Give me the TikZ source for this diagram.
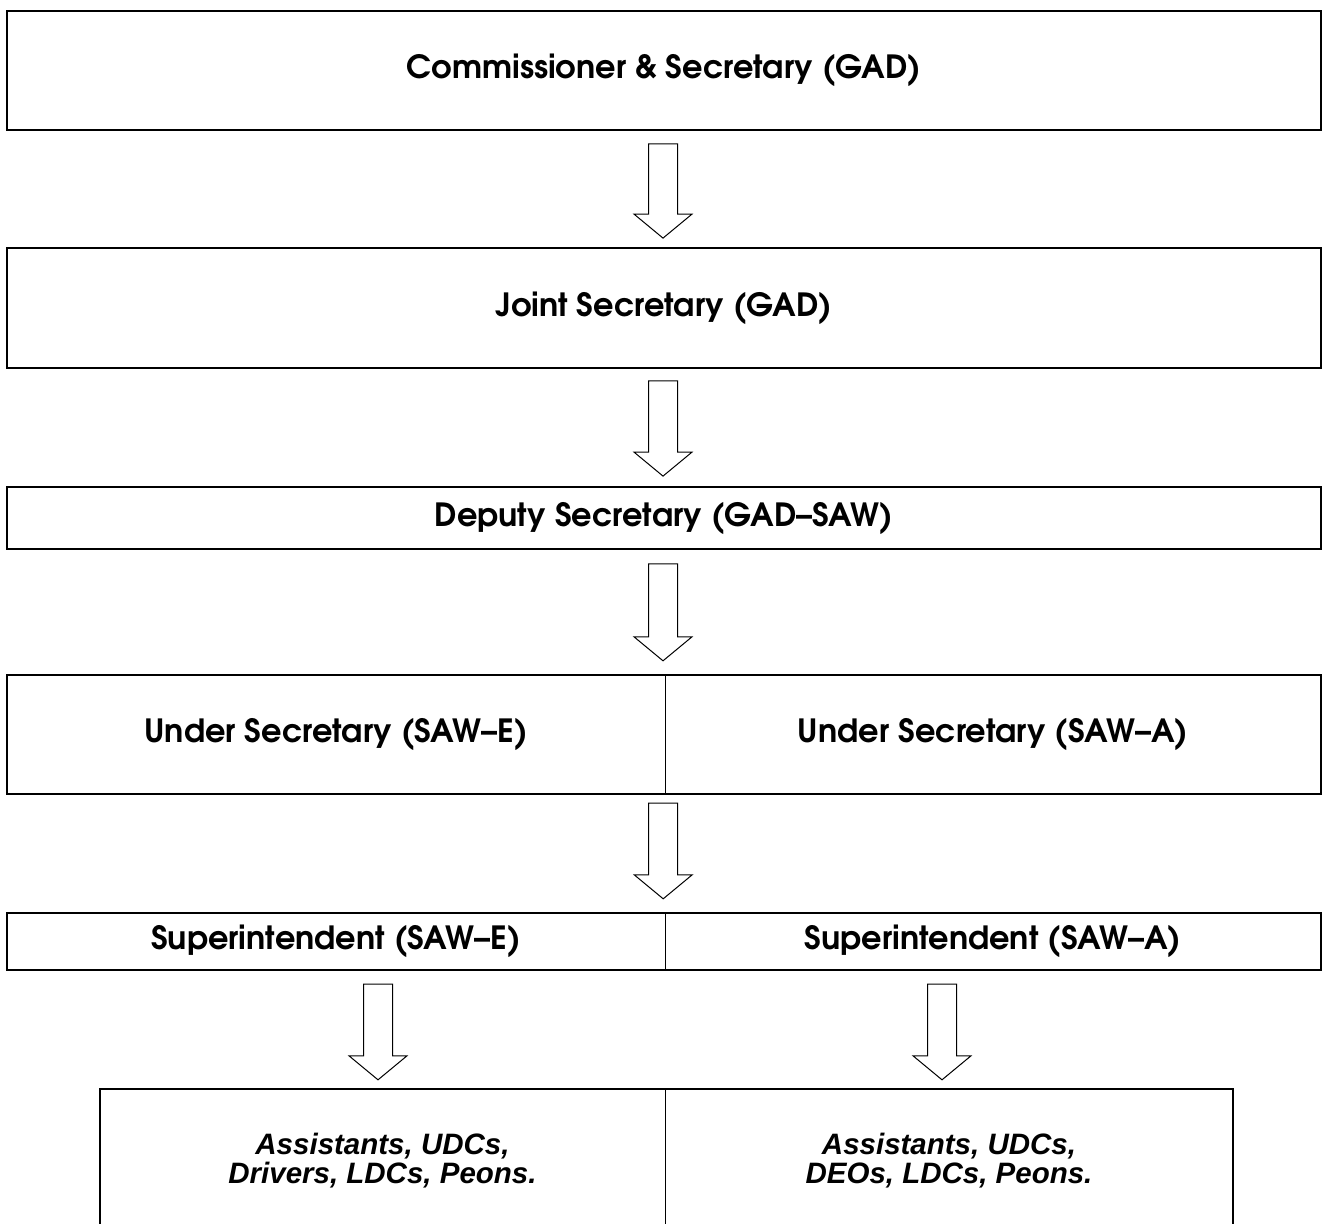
\documentclass[tikz,border=0pt]{standalone}
\usepackage{fontspec}
\newfontfamily\gothic{TeX Gyre Adventor}
\newfontfamily\arialfont{Liberation Sans}
\usetikzlibrary{calc}
\begin{document}
\begin{tikzpicture}[x=1pt,y=-1pt,
  boxline/.style={line width=1.8pt},
  divline/.style={line width=1.3pt},
  cell/.style={inner sep=0pt, font=\gothic\bfseries\fontsize{32}{34}\selectfont},
  staffcell/.style={inner sep=0pt, align=center, font=\arialfont\bfseries\itshape\fontsize{29.5}{29}\selectfont},
  blockarrow/.style={line width=1pt, line join=miter, fill=white,
    to path={let \p1=(\tikztostart), \p2=(\tikztotarget) in
      (\x1-14.5pt,\y1) -- (\x1+14.5pt,\y1) -- (\x1+14.5pt,\y2+24pt) -- (\x1+29pt,\y2+24pt)
      -- (\x1,\y2) -- (\x1-29pt,\y2+24pt) -- (\x1-14.5pt,\y2+24pt) -- cycle}}
]
\clip (0,0) rectangle (1324,1223);
\fill[white] (0,0) rectangle (1324,1223);

% Level 1
\node[cell, draw, boxline, minimum width=1314pt, minimum height=119pt] (b1) at (664,70.5) {Commissioner \& Secretary (GAD)};
% Level 2
\node[cell, draw, boxline, minimum width=1314pt, minimum height=120pt] (b2) at (664,308) {Joint Secretary (GAD)};
% Level 3
\node[cell, draw, boxline, minimum width=1314pt, minimum height=62pt] (b3) at (664,518) {Deputy Secretary (GAD–SAW)};
% Level 4
\node[cell, minimum width=658pt, minimum height=119pt] (u_l) at (336,734.5) {Under Secretary (SAW–E)};
\node[cell, minimum width=656pt, minimum height=119pt] (u_r) at (993,734.5) {Under Secretary (SAW–A)};
\draw[boxline] (u_l.north west) rectangle (u_r.south east);
\draw[divline] (u_l.north east) -- (u_l.south east);
% Level 5
\node[cell, minimum width=658pt, minimum height=57pt] (s_l) at (336,941.5) {Superintendent (SAW–E)};
\node[cell, minimum width=656pt, minimum height=57pt] (s_r) at (993,941.5) {Superintendent (SAW–A)};
\draw[boxline] (s_l.north west) rectangle (s_r.south east);
\draw[divline] (s_l.north east) -- (s_l.south east);
% Level 6
\node[staffcell, minimum width=565pt, minimum height=143pt] (st_l) at (382.5,1160.5) {Assistants, UDCs,\\Drivers, LDCs, Peons.};
\node[staffcell, minimum width=568pt, minimum height=143pt] (st_r) at (949,1160.5) {Assistants, UDCs,\\DEOs, LDCs, Peons.};
\draw[boxline] (st_l.north west) rectangle (st_r.south east);
\draw[divline] (st_l.north east) -- (st_l.south east);

% Arrow end points
\coordinate (a1s) at ($(b1.south)+(-1,13)$);
\coordinate (a1e) at ($(b2.north)+(-1,-9)$);
\coordinate (a2s) at ($(b2.south)+(-1,12)$);
\coordinate (a2e) at ($(b3.north)+(-1,-10)$);
\coordinate (a3s) at ($(b3.south)+(-1,14)$);
\coordinate (a3e) at ($(u_l.north east)+(-2,-14)$);
\coordinate (a4s) at ($(u_l.south east)+(-2,9)$);
\coordinate (a4e) at ($(s_l.north east)+(-2,-14)$);
\coordinate (a5lt) at (st_l.north |- s_l.south);
\coordinate (a5ls) at ($(a5lt)+(-4.5,14)$);
\coordinate (a5le) at ($(st_l.north)+(-4.5,-9)$);
\coordinate (a5rt) at (st_r.north |- s_r.south);
\coordinate (a5rs) at ($(a5rt)+(-7,14)$);
\coordinate (a5re) at ($(st_r.north)+(-7,-9)$);

\draw[blockarrow] (a1s) to (a1e);
\draw[blockarrow] (a2s) to (a2e);
\draw[blockarrow] (a3s) to (a3e);
\draw[blockarrow] (a4s) to (a4e);
\draw[blockarrow] (a5ls) to (a5le);
\draw[blockarrow] (a5rs) to (a5re);
\end{tikzpicture}
\end{document}
